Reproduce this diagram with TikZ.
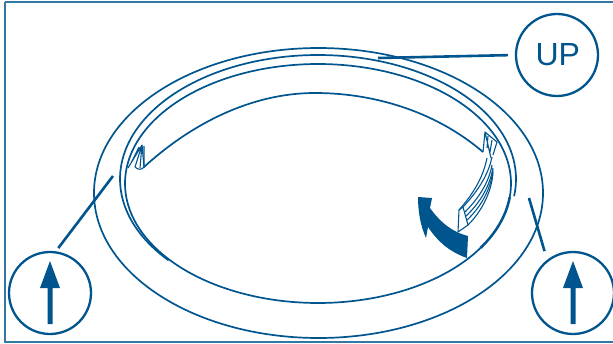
\documentclass[tikz,border=0pt]{standalone}
\usepackage{fontspec}
\setmainfont{Liberation Sans}
\definecolor{navy}{HTML}{00558F}
\tikzset{
  ink/.style={draw=navy,line width=1.7pt,line join=round},
  thin ink/.style={draw=navy,line width=1.1pt,line join=round},
  badge/.style={circle,draw=navy,line width=2.3pt,minimum size=82pt,inner sep=0pt,text=navy,font=\fontsize{32}{32}\selectfont},
  leader/.style={draw=navy,line width=2.6pt},
  solid ink/.style={fill=navy,draw=none}
}
\begin{document}
\begin{tikzpicture}[x=1pt,y=-1pt]
\useasboundingbox (0,0) rectangle (613,343);
\draw[draw=navy!80,line width=1.2pt] (5,2) -- (612.5,2) (5,2) -- (5,342) -- (612.5,342);
\draw[ink] (318.5,193) ellipse [x radius=224.5,y radius=145];
% ring outer line
\draw[ink] plot[domain=-8:221,samples=120,smooth] ({318+198*cos(\x)},{179-124*sin(\x)});
% ring inner line
\draw[ink] plot[domain=-6.5:327.3,samples=160,smooth] ({318+193*cos(\x)},{183.5-119.5*sin(\x)});
\draw[ink,line width=2.5pt] plot[domain=-32.7:-6.5,samples=30,smooth] ({318+193*cos(\x)},{183.5-119.5*sin(\x)});
% inner edge of the gasket
\draw[ink] (144,167) .. controls (190,125) and (250,93) .. (315,93) .. controls (380,93) and (440,115) .. (483,152);
% left tab
\draw[thin ink] (128,168) -- (142,145) -- (135,167) (131,163) -- (139,147) (142,145) -- (140,168) (144,146) -- (144,168);
\draw[thin ink] (135,167) .. controls (138,170) and (142,170) .. (144,167) -- (142,145);
% right tab
\draw[thin ink] (483,152) -- (485,132) -- (497,142) -- (493,155) (485,132) -- (491,158) (488,136) -- (487,148) (492,140) -- (490,152);
% right tab strips
\draw[thin ink] (487,158) .. controls (483,178) and (473,194) .. (459,210);
\draw[thin ink] (492,157) .. controls (488,176) and (477,192) .. (463,207);
\draw[thin ink] (492,165) .. controls (489,182) and (479,198) .. (465,212);
\draw[thin ink] (493,168) .. controls (490,185) and (481,202) .. (466,216);
\draw[thin ink] (493,170) .. controls (491,188) and (482,206) .. (467,220);
\draw[thin ink] (493,172) .. controls (492,190) and (483,210) .. (468,225);
\draw[thin ink] (459,210) -- (463,207) -- (468,225) -- (458,232) -- (459,210);
% bold arrow
\path[solid ink] (418,197) -- (432,198) -- (430,208) .. controls (440,222) and (452,232) .. (468,236) -- (467,258) .. controls (450,252) and (438,242) .. (428,227) -- (426,238) .. controls (420,225) and (418,210) .. (418,197) -- cycle;
% badges
\node[badge] (up) at (557,55) {\hspace{1.5pt}UP};
\node[badge] (lb) at (50,293) {};
\node[badge] (rb) at (573,293) {};
\coordinate (upend) at (378,58);
\coordinate (lbend) at (113,176);
\coordinate (rbend) at (529,198);
\draw[leader,shorten <=7pt] (up.west) -- (upend);
\draw[leader,shorten <=4pt] (lb.82) -- (lbend);
\draw[leader,shorten <=9pt] (rb.128) -- (rbend);
% up arrows in badges
\path[solid ink] (47.5,324) -- (47.5,288) -- (40,288) -- (50,261) -- (60,288) -- (52.5,288) -- (52.5,324) -- cycle;
\path[solid ink] (570.5,324) -- (570.5,288) -- (563,288) -- (573,261) -- (583,288) -- (575.5,288) -- (575.5,324) -- cycle;
\end{tikzpicture}
\end{document}
